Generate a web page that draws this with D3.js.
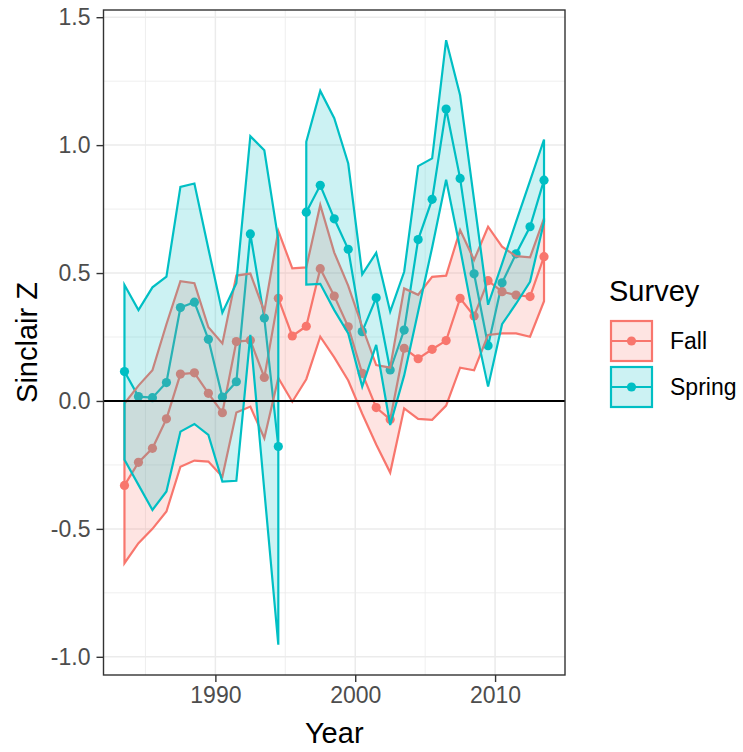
<!DOCTYPE html>
<html>
<head>
<meta charset="utf-8">
<script src="https://cdn.jsdelivr.net/npm/d3@7"></script>
<style>
  body { margin: 0; background: #ffffff; }
  text { font-family: "Liberation Sans", Arial, sans-serif; }
</style>
</head>
<body>
<svg id="chart" width="743" height="752"></svg>
<script>
// ====================================================================================================================
// Data (Sinclair Z index by survey, mean with upper / lower band)

var years = [1983.5, 1984.5, 1985.5, 1986.5, 1987.5, 1988.5, 1989.5, 1990.5, 1991.5, 1992.5, 1993.5,
             1994.5, 1995.5, 1996.5, 1997.5, 1998.5, 1999.5, 2000.5, 2001.5, 2002.5, 2003.5, 2004.5,
             2005.5, 2006.5, 2007.5, 2008.5, 2009.5, 2010.5, 2011.5, 2012.5, 2013.5];

var fallMean  = [-0.33, -0.24, -0.185, -0.07, 0.105, 0.11, 0.03, -0.046, 0.232, 0.237, 0.092,
                 0.401, 0.254, 0.292, 0.517, 0.41, 0.29, 0.108, -0.026, -0.072, 0.206, 0.165,
                 0.202, 0.236, 0.401, 0.332, 0.47, 0.427, 0.414, 0.408, 0.564];
var fallUpper = [-0.01, 0.06, 0.12, 0.30, 0.468, 0.46, 0.288, 0.225, 0.49, 0.498, 0.35,
                 0.665, 0.518, 0.522, 0.766, 0.58, 0.45, 0.29, 0.14, 0.13, 0.44, 0.415,
                 0.485, 0.49, 0.668, 0.551, 0.681, 0.603, 0.566, 0.561, 0.714];
var fallLower = [-0.634, -0.556, -0.50, -0.432, -0.257, -0.233, -0.237, -0.296, -0.045, -0.022, -0.146,
                 0.09, -0.003, 0.085, 0.251, 0.17, 0.08, -0.05, -0.17, -0.28, -0.029, -0.07,
                 -0.074, -0.018, 0.13, 0.12, 0.258, 0.264, 0.264, 0.251, 0.39];

// spring survey has no value for 1995
var springMean  = [0.115, 0.017, 0.013, 0.072, 0.365, 0.386, 0.241, 0.015, 0.075, 0.653, 0.324,
                   -0.178, null, 0.738, 0.843, 0.712, 0.593, 0.271, 0.403, 0.121, 0.277, 0.631,
                   0.788, 1.141, 0.87, 0.497, 0.216, 0.462, 0.575, 0.681, 0.863];
var springUpper = [0.453, 0.355, 0.444, 0.486, 0.837, 0.85, 0.595, 0.345, 0.46, 1.035, 0.98,
                   0.63, null, 1.013, 1.212, 1.105, 0.928, 0.495, 0.579, 0.349, 0.505, 0.918,
                   0.948, 1.41, 1.195, 0.785, 0.376, 0.537, 0.70, 0.86, 1.022];
var springLower = [-0.23, -0.328, -0.426, -0.354, -0.12, -0.09, -0.133, -0.315, -0.312, 0.258, -0.35,
                   -0.953, null, 0.455, 0.458, 0.355, 0.264, 0.056, 0.219, -0.094, 0.10, 0.35,
                   0.60, 0.865, 0.596, 0.31, 0.056, 0.30, 0.38, 0.466, 0.70];

var surveys = ["Fall", "Spring"];
var surveyColors = ["#F8766D", "#00BFC4"];

var yTicks = [-1.0, -0.5, 0.0, 0.5, 1.0, 1.5];
var yMinor = [-0.75, -0.25, 0.25, 0.75, 1.25];
var xTicks = [1990, 2000, 2010];
var xMinor = [1985, 1995, 2005];

// ====================================================================================================================
// Build per-survey rows

function makeRows(mean, upper, lower) {
    return years.map(function(yr, i) {
        return { year: yr, mean: mean[i], upper: upper[i], lower: lower[i] };
    });
}

var series = [
    { name: surveys[0], color: surveyColors[0], rows: makeRows(fallMean, fallUpper, fallLower) },
    { name: surveys[1], color: surveyColors[1], rows: makeRows(springMean, springUpper, springLower) }
];

// ====================================================================================================================
// Scales (ggplot style 5% expansion)

var panel = { left: 103.5, right: 565, top: 10, bottom: 675 };

var xExt = d3.extent(years);
var xPad = (xExt[1] - xExt[0]) * 0.05;
var x = d3.scaleLinear().domain([xExt[0] - xPad, xExt[1] + xPad]).range([panel.left, panel.right]);

var allY = fallUpper.concat(fallLower, springUpper, springLower).filter(function(v) { return v !== null; });
var yExt = d3.extent(allY);
var yPad = (yExt[1] - yExt[0]) * 0.05;
var y = d3.scaleLinear().domain([yExt[0] - yPad, yExt[1] + yPad]).range([panel.bottom, panel.top]);

var svg = d3.select("#chart");

var lineW = 2.2;
var pointR = 4.6;

// ====================================================================================================================
// Panel background and grid

svg.append("rect")
    .attr("x", panel.left).attr("y", panel.top)
    .attr("width", panel.right - panel.left).attr("height", panel.bottom - panel.top)
    .attr("fill", "#ffffff");

var grid = svg.append("g");

grid.selectAll(".ymin").data(yMinor).enter().append("line")
    .attr("x1", panel.left).attr("x2", panel.right)
    .attr("y1", d => y(d)).attr("y2", d => y(d))
    .attr("stroke", "#EBEBEB").attr("stroke-width", 0.8);
grid.selectAll(".xmin").data(xMinor).enter().append("line")
    .attr("y1", panel.top).attr("y2", panel.bottom)
    .attr("x1", d => x(d)).attr("x2", d => x(d))
    .attr("stroke", "#EBEBEB").attr("stroke-width", 0.8);
grid.selectAll(".ymaj").data(yTicks).enter().append("line")
    .attr("x1", panel.left).attr("x2", panel.right)
    .attr("y1", d => y(d)).attr("y2", d => y(d))
    .attr("stroke", "#EBEBEB").attr("stroke-width", 1.5);
grid.selectAll(".xmaj").data(xTicks).enter().append("line")
    .attr("y1", panel.top).attr("y2", panel.bottom)
    .attr("x1", d => x(d)).attr("x2", d => x(d))
    .attr("stroke", "#EBEBEB").attr("stroke-width", 1.5);

// ====================================================================================================================
// Lines and points, then ribbons on top (alpha fill, coloured outline)

var meanLine = d3.line()
    .defined(d => d.mean !== null)
    .x(d => x(d.year))
    .y(d => y(d.mean));

var band = d3.area()
    .defined(d => d.upper !== null && d.lower !== null)
    .x(d => x(d.year))
    .y0(d => y(d.lower))
    .y1(d => y(d.upper));

series.forEach(function(s) {
    svg.append("path")
        .attr("d", meanLine(s.rows))
        .attr("fill", "none")
        .attr("stroke", s.color)
        .attr("stroke-width", lineW);
});

series.forEach(function(s) {
    svg.append("g").selectAll("circle")
        .data(s.rows.filter(d => d.mean !== null))
        .enter().append("circle")
        .attr("cx", d => x(d.year))
        .attr("cy", d => y(d.mean))
        .attr("r", pointR)
        .attr("fill", s.color);
});

series.forEach(function(s) {
    svg.append("path")
        .attr("d", band(s.rows))
        .attr("fill", s.color)
        .attr("fill-opacity", 0.2)
        .attr("stroke", s.color)
        .attr("stroke-width", lineW)
        .attr("stroke-linejoin", "miter");
});

// zero reference line
svg.append("line")
    .attr("x1", panel.left).attr("x2", panel.right)
    .attr("y1", y(0)).attr("y2", y(0))
    .attr("stroke", "#000000").attr("stroke-width", 2);

// panel border
svg.append("rect")
    .attr("x", panel.left).attr("y", panel.top)
    .attr("width", panel.right - panel.left).attr("height", panel.bottom - panel.top)
    .attr("fill", "none").attr("stroke", "#333333").attr("stroke-width", 1.4);

// ====================================================================================================================
// Axes

var xAxis = d3.axisBottom(x).tickValues(xTicks).tickSize(7).tickPadding(5).tickFormat(d3.format("d"));
var gx = svg.append("g").attr("transform", "translate(0," + panel.bottom + ")").call(xAxis);
gx.select(".domain").remove();
gx.selectAll(".tick line").attr("stroke", "#333333").attr("stroke-width", 1.4);
gx.selectAll(".tick text")
    .attr("fill", "#4D4D4D")
    .style("font-size", "23px")
    .style("font-family", "'Liberation Sans', Arial, sans-serif");

var yAxis = d3.axisLeft(y).tickValues(yTicks).tickSize(7).tickPadding(6)
    .tickFormat(function(d) { return d.toFixed(1); });
var gy = svg.append("g").attr("transform", "translate(" + panel.left + ",0)").call(yAxis);
gy.select(".domain").remove();
gy.selectAll(".tick line").attr("stroke", "#333333").attr("stroke-width", 1.4);
gy.selectAll(".tick text")
    .attr("fill", "#4D4D4D")
    .style("font-size", "23px")
    .style("font-family", "'Liberation Sans', Arial, sans-serif");

svg.append("text")
    .attr("x", (panel.left + panel.right) / 2)
    .attr("y", 743)
    .attr("text-anchor", "middle")
    .style("font-size", "29px")
    .attr("fill", "#000000")
    .text("Year");

svg.append("text")
    .attr("transform", "translate(37," + ((panel.top + panel.bottom) / 2) + ") rotate(-90)")
    .attr("text-anchor", "middle")
    .style("font-size", "29px")
    .attr("fill", "#000000")
    .text("Sinclair Z");

// ====================================================================================================================
// Legend

var legend = svg.append("g").attr("transform", "translate(609,0)");

legend.append("text")
    .attr("x", 0).attr("y", 301)
    .style("font-size", "29px")
    .attr("fill", "#000000")
    .text("Survey");

series.forEach(function(s, i) {
    var top = 321 + i * 46;
    var key = legend.append("g").attr("transform", "translate(2," + top + ")");
    key.append("rect")
        .attr("x", 0).attr("y", 0).attr("width", 41).attr("height", 40)
        .attr("fill", s.color).attr("fill-opacity", 0.2)
        .attr("stroke", s.color).attr("stroke-width", lineW);
    key.append("line")
        .attr("x1", 1).attr("x2", 40).attr("y1", 20).attr("y2", 20)
        .attr("stroke", s.color).attr("stroke-width", lineW);
    key.append("circle")
        .attr("cx", 20.5).attr("cy", 20).attr("r", pointR)
        .attr("fill", s.color);
    legend.append("text")
        .attr("x", 61).attr("y", top + 20)
        .attr("dy", "0.35em")
        .style("font-size", "23px")
        .attr("fill", "#000000")
        .text(s.name);
});
</script>
</body>
</html>
